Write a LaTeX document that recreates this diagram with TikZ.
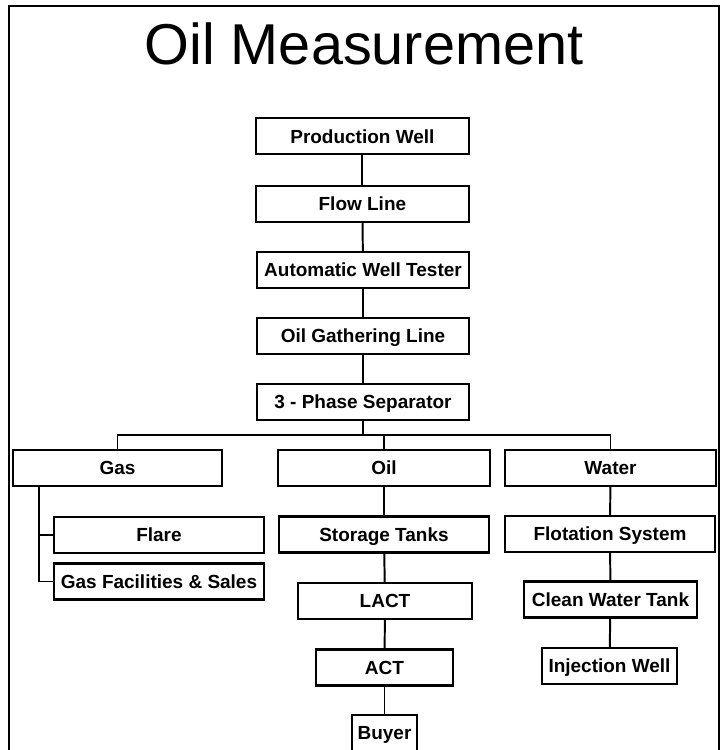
\documentclass[tikz,border=0pt]{standalone}
\usepackage{fontspec}
\setmainfont{Liberation Sans}
\usepackage{tikz}
\usetikzlibrary{positioning, calc}

\begin{document}
\begin{tikzpicture}[
    unit/.style={draw=black, line width=1.5pt, fill=white, minimum height=0.9cm, inner sep=0pt, text height=9.7pt, text depth=0pt, font=\fontsize{13.5}{16}\selectfont\bfseries},
    link/.style={line width=1.4pt},
    frame/.style={line width=1.5pt},
    heading/.style={font=\fontsize{41}{48}\selectfont, anchor=base, inner sep=0pt}
]
\useasboundingbox (0,0) rectangle (18.1,18.75);

% Frame and title
\draw[frame] (0.225,-0.5) -- (0.225,18.6) -- (17.975,18.6) -- (17.975,-0.5);
\node[heading] (title) at (9.1,17.125) {Oil Measurement};

% Center column
\node[unit, minimum width=5.325cm] (well) at (9.06,15.34) {Production Well};
\node[unit, minimum width=5.325cm] (flow) at (9.06,13.65) {Flow Line};
\node[unit, minimum width=5.3cm] (tester) at (9.075,12.0) {Automatic Well Tester};
\node[unit, minimum width=5.3cm] (gather) at (9.075,10.35) {Oil Gathering Line};
\node[unit, minimum width=5.3cm] (sep) at (9.075,8.7) {3 - Phase Separator};

\draw[link] (well) -- (flow);
\draw[link] (flow) -- (tester);
\draw[link] (tester) -- (gather);
\draw[link] (gather) -- (sep);

% Split into three streams
\coordinate (bus) at (9.075,7.875);
\node[unit, minimum width=5.225cm] (gas) at (2.9375,7.05) {Gas};
\node[unit, minimum width=5.3cm] (oil) at (9.6,7.05) {Oil};
\node[unit, minimum width=5.275cm] (water) at (15.2625,7.05) {Water};

\draw[link] (sep) -- (bus);
\draw[link] (gas.north) |- (bus);
\draw[link] (water.north) |- (bus);
\draw[link] (oil.north) -- (oil.north |- bus);

% Gas branch
\coordinate (gtrunk) at (0.975,0);
\node[unit, minimum width=5.25cm] (flare) at (3.975,5.375) {Flare};
\node[unit, minimum width=5.25cm] (sales) at (3.975,4.2125) {Gas Facilities \& Sales};

\draw[link] (gas.south -| gtrunk) |- (flare.west);
\draw[link] (gas.south -| gtrunk) |- (sales.west);

% Oil branch
\node[unit, minimum width=5.25cm] (tanks) at (9.6,5.3875) {Storage Tanks};
\node[unit, minimum width=4.35cm] (lact) at (9.625,3.725) {LACT};
\node[unit, minimum width=3.425cm] (act) at (9.6125,2.0625) {ACT};
\node[unit, minimum width=1.625cm] (buyer) at (9.6125,0.425) {Buyer};

\draw[link] (oil) -- (tanks);
\draw[link] (tanks) -- (lact);
\draw[link] (lact) -- (act);
\draw[link] (act) -- (buyer);

% Water branch
\node[unit, minimum width=5.25cm] (flot) at (15.25,5.4) {Flotation System};
\node[unit, minimum width=4.325cm] (clean) at (15.2625,3.7625) {Clean Water Tank};
\node[unit, minimum width=3.375cm] (inject) at (15.2375,2.1) {Injection Well};

\draw[link] (water) -- (flot);
\draw[link] (flot) -- (clean);
\draw[link] (clean) -- (inject);

\end{tikzpicture}
\end{document}
